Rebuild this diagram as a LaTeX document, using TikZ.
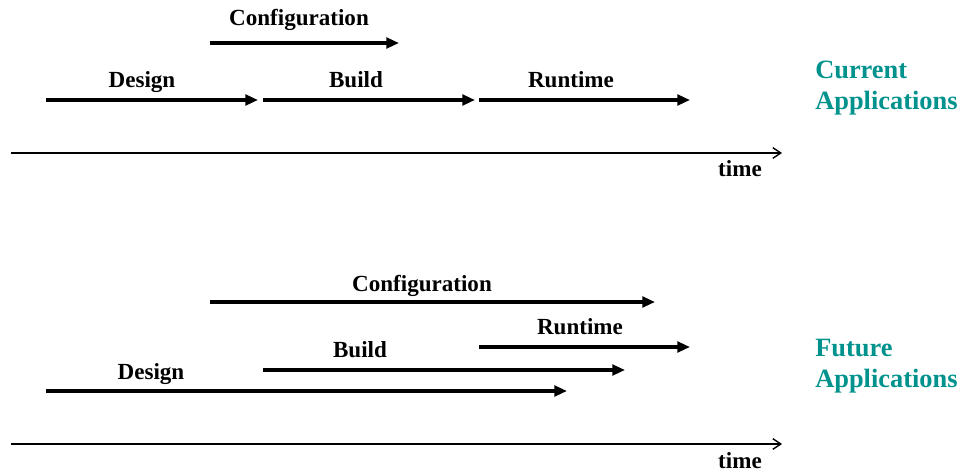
\documentclass[tikz,border=0pt]{standalone}
\usepackage{fontspec}
\setmainfont{Liberation Serif}
\usetikzlibrary{arrows.meta}
\definecolor{appteal}{RGB}{0,146,140}
\begin{document}
\begin{tikzpicture}[x=0.75pt,y=-0.75pt,
  phase/.style={line width=2.3pt,-{Triangle[length=9.5pt,width=8pt]}},
  timeaxis/.style={line width=1pt,-{Straight Barb[length=6pt,width=8pt]}},
  plabel/.style={anchor=base,inner sep=0pt,font=\fontsize{17.3}{20}\selectfont\bfseries},
  applabel/.style={anchor=base west,inner sep=0pt,text=appteal,font=\fontsize{19.8}{24}\selectfont\bfseries}]
\useasboundingbox (0,0) rectangle (960,471);

% current applications: strictly sequential phases
\coordinate (cCs) at (210,43);  \coordinate (cCe) at (399,43);
\coordinate (cDs) at (46,100);  \coordinate (cDe) at (258,100);
\coordinate (cBs) at (263,100); \coordinate (cBe) at (475,100);
\coordinate (cRs) at (479,100); \coordinate (cRe) at (690,100);
\coordinate (cTs) at (11,153);  \coordinate (cTe) at (782,153);
\draw[phase] (cCs) -- (cCe);
\draw[phase] (cDs) -- (cDe);
\draw[phase] (cBs) -- (cBe);
\draw[phase] (cRs) -- (cRe);
\draw[timeaxis] (cTs) -- (cTe);
\node[plabel] (cC) at (299,25) {Configuration};
\node[plabel] (cD) at (142,87) {Design};
\node[plabel] (cB) at (356,87) {Build};
\node[plabel] (cR) at (571,87) {Runtime};
\node[plabel] (cT) at (740,176) {time};
\node[applabel] (cA1) at (815,78) {Current};
\node[applabel] (cA2) at (815,109) {Applications};

% future applications: overlapping phases
\coordinate (fCs) at (210,302); \coordinate (fCe) at (655,302);
\coordinate (fRs) at (479,347); \coordinate (fRe) at (690,347);
\coordinate (fBs) at (263,370); \coordinate (fBe) at (625,370);
\coordinate (fDs) at (46,391);  \coordinate (fDe) at (567,391);
\coordinate (fTs) at (11,444);  \coordinate (fTe) at (782,444);
\draw[phase] (fCs) -- (fCe);
\draw[phase] (fRs) -- (fRe);
\draw[phase] (fBs) -- (fBe);
\draw[phase] (fDs) -- (fDe);
\draw[timeaxis] (fTs) -- (fTe);
\node[plabel] (fC) at (422,291) {Configuration};
\node[plabel] (fR) at (580,334) {Runtime};
\node[plabel] (fB) at (360,357) {Build};
\node[plabel] (fD) at (151,379) {Design};
\node[plabel] (fT) at (740,468) {time};
\node[applabel] (fA1) at (815,356) {Future};
\node[applabel] (fA2) at (815,387) {Applications};
\end{tikzpicture}
\end{document}
